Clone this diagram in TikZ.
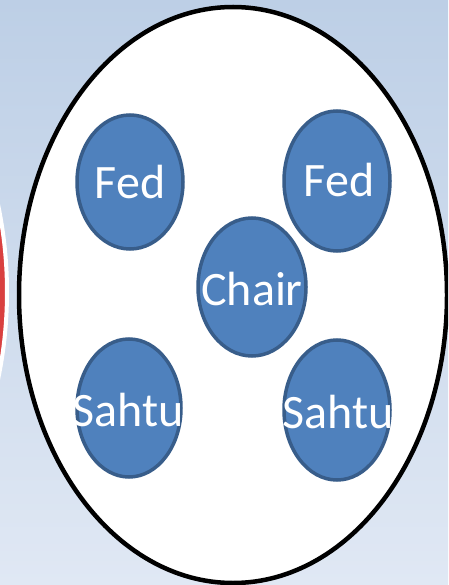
\documentclass[tikz,border=0pt]{standalone}
\usepackage{fontspec}
\setmainfont{Carlito}
\definecolor{bgtop}{RGB}{189,207,230}
\definecolor{bgbot}{RGB}{224,232,244}
\definecolor{bubblefill}{RGB}{79,129,189}
\definecolor{bubbleline}{RGB}{56,93,138}
\definecolor{redcirc}{RGB}{217,64,64}
\tikzset{
  bubble/.style={draw=bubbleline, fill=bubblefill, line width=3.5pt},
  bubbletext/.style={inner sep=0pt, text=white, font=\fontsize{48}{48}\selectfont},
  frame/.style={draw=black, fill=white, line width=4.5pt}
}
\begin{document}
\begin{tikzpicture}[x=1pt,y=-1pt]
\useasboundingbox (0,0) rectangle (448,585);
\clip (0,0) rectangle (448,585);
\shade[top color=bgtop, bottom color=bgbot] (0,0) rectangle (448,585);
\draw[fill=redcirc, draw=white, line width=4pt] (-420,292) circle[radius=427];
\path[frame] (233,295) ellipse[x radius=214, y radius=288];
\path[bubble] (130,182) ellipse[x radius=53, y radius=67];
\path[bubble] (337,181) ellipse[x radius=53, y radius=70];
\path[bubble] (252,287) ellipse[x radius=54, y radius=69];
\path[bubble] (129,408) ellipse[x radius=52, y radius=69];
\path[bubble] (337,410) ellipse[x radius=53, y radius=70];
\node[bubbletext] (fedl) at (130,182) {Fed};
\node[bubbletext] (fedr) at (339,180) {Fed};
\node[bubbletext] (chair) at (252,289) {Chair};
\node[bubbletext] (sahtul) at (128,410) {Sahtu};
\node[bubbletext] (sahtur) at (338,412) {Sahtu};
\end{tikzpicture}
\end{document}
